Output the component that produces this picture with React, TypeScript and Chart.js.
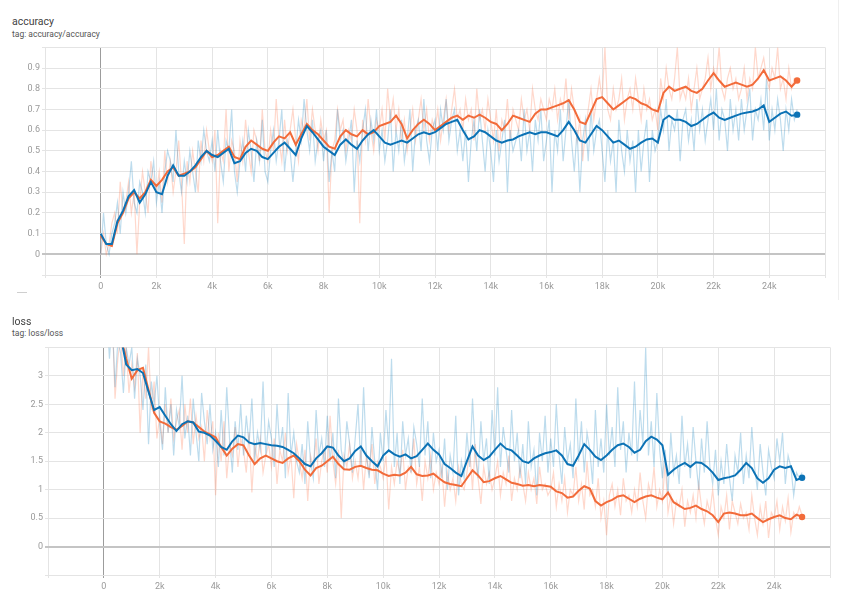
import React, { useEffect, useRef } from "react";
import { Chart, registerables } from "chart.js";
Chart.register(...registerables);

// smoothed series: one value every 200 steps (0 .. 25000, 126 values)
// raw series: one value every 100 steps (0 .. 25000, 251 values)
const SMOOTH_STEP = 200;
const RAW_STEP = 100;

// ---------------- accuracy ----------------
const accOrangeSmoothed = [
  0.09, 0.05, 0.04, 0.15, 0.20, 0.27, 0.30, 0.27, 0.30, 0.36,
  0.33, 0.36, 0.40, 0.42, 0.38, 0.39, 0.40, 0.42, 0.46, 0.50,
  0.47, 0.48, 0.50, 0.52, 0.47, 0.46, 0.52, 0.55, 0.53, 0.51,
  0.50, 0.54, 0.57, 0.56, 0.59, 0.53, 0.58, 0.63, 0.60, 0.58,
  0.55, 0.52, 0.51, 0.57, 0.60, 0.58, 0.57, 0.60, 0.58, 0.59,
  0.62, 0.63, 0.64, 0.67, 0.63, 0.56, 0.60, 0.63, 0.65, 0.63,
  0.60, 0.62, 0.64, 0.66, 0.67, 0.65, 0.67, 0.66, 0.675, 0.66,
  0.64, 0.63, 0.60, 0.63, 0.67, 0.66, 0.65, 0.64, 0.68, 0.70,
  0.70, 0.71, 0.72, 0.73, 0.745, 0.70, 0.64, 0.63, 0.69, 0.75,
  0.76, 0.73, 0.70, 0.72, 0.74, 0.76, 0.75, 0.73, 0.72, 0.70,
  0.69, 0.78, 0.81, 0.79, 0.80, 0.81, 0.79, 0.78, 0.80, 0.84,
  0.875, 0.84, 0.81, 0.82, 0.83, 0.82, 0.81, 0.82, 0.85, 0.89,
  0.84, 0.85, 0.86, 0.84, 0.81, 0.84,
];
const accBlueSmoothed = [
  0.10, 0.05, 0.05, 0.16, 0.21, 0.28, 0.31, 0.25, 0.29, 0.35,
  0.30, 0.29, 0.38, 0.43, 0.38, 0.38, 0.40, 0.43, 0.47, 0.50,
  0.48, 0.47, 0.49, 0.51, 0.44, 0.45, 0.49, 0.51, 0.50, 0.47,
  0.46, 0.49, 0.52, 0.54, 0.51, 0.48, 0.56, 0.62, 0.59, 0.555,
  0.52, 0.50, 0.48, 0.53, 0.555, 0.53, 0.51, 0.55, 0.58, 0.60,
  0.57, 0.54, 0.53, 0.54, 0.55, 0.54, 0.56, 0.58, 0.59, 0.58,
  0.59, 0.61, 0.63, 0.64, 0.65, 0.60, 0.555, 0.57, 0.60, 0.59,
  0.57, 0.55, 0.54, 0.55, 0.555, 0.57, 0.58, 0.59, 0.58, 0.59,
  0.59, 0.58, 0.57, 0.60, 0.64, 0.60, 0.55, 0.54, 0.58, 0.62,
  0.60, 0.57, 0.54, 0.55, 0.53, 0.51, 0.52, 0.54, 0.555, 0.56,
  0.54, 0.65, 0.67, 0.65, 0.65, 0.64, 0.62, 0.63, 0.65, 0.67,
  0.685, 0.66, 0.65, 0.66, 0.67, 0.68, 0.685, 0.69, 0.70, 0.72,
  0.64, 0.66, 0.68, 0.69, 0.67, 0.675,
];
const accOrangeRaw = [
  0.0, 0.1, 0.0, 0.05, 0.15, 0.2, 0.1, 0.35, 0.2, 0.25,
  0.35, 0.2, 0.3, 0.0, 0.25, 0.4, 0.3, 0.2, 0.45, 0.35,
  0.3, 0.4, 0.25, 0.5, 0.35, 0.45, 0.3, 0.4, 0.55, 0.35,
  0.05, 0.45, 0.35, 0.5, 0.4, 0.3, 0.55, 0.45, 0.6, 0.5,
  0.45, 0.6, 0.15, 0.5, 0.45, 0.7, 0.4, 0.55, 0.5, 0.35,
  0.55, 0.45, 0.65, 0.5, 0.4, 0.6, 0.55, 0.45, 0.7, 0.5,
  0.45, 0.6, 0.5, 0.75, 0.55, 0.45, 0.65, 0.5, 0.6, 0.7,
  0.55, 0.45, 0.65, 0.6, 0.75, 0.55, 0.7, 0.6, 0.5, 0.65,
  0.55, 0.6, 0.2, 0.5, 0.55, 0.7, 0.6, 0.65, 0.5, 0.6,
  0.55, 0.7, 0.6, 0.15, 0.65, 0.55, 0.75, 0.6, 0.5, 0.65,
  0.6, 0.7, 0.55, 0.8, 0.65, 0.75, 0.6, 0.7, 0.55, 0.65,
  0.5, 0.6, 0.7, 0.55, 0.65, 0.75, 0.6, 0.7, 0.55, 0.65,
  0.6, 0.7, 0.55, 0.65, 0.75, 0.6, 0.7, 0.8, 0.65, 0.7,
  0.6, 0.75, 0.65, 0.7, 0.55, 0.8, 0.65, 0.7, 0.6, 0.75,
  0.65, 0.55, 0.7, 0.5, 0.65, 0.6, 0.75, 0.55, 0.7, 0.65,
  0.6, 0.75, 0.65, 0.7, 0.6, 0.8, 0.7, 0.65, 0.75, 0.7,
  0.65, 0.75, 0.7, 0.8, 0.65, 0.75, 0.7, 0.85, 0.65, 0.8,
  0.7, 0.55, 0.65, 0.45, 0.6, 0.7, 0.8, 0.65, 0.75, 0.85,
  0.75, 1.0, 0.7, 0.65, 0.8, 0.7, 0.75, 0.85, 0.65, 0.75,
  0.8, 0.7, 0.85, 0.75, 0.65, 0.8, 0.7, 0.75, 0.65, 0.7,
  0.6, 0.85, 0.75, 0.9, 0.8, 0.75, 0.85, 1.0, 0.75, 0.8,
  0.75, 0.85, 0.7, 0.8, 0.9, 0.75, 0.8, 0.85, 0.95, 0.8,
  0.9, 0.85, 1.0, 0.8, 0.75, 0.85, 0.9, 0.8, 0.85, 0.75,
  0.8, 0.9, 0.75, 0.85, 0.8, 1.0, 0.85, 0.9, 0.95, 0.85,
  0.8, 0.9, 0.85, 1.0, 0.8, 0.85, 0.75, 0.9, 0.8, 0.85,
  0.85,
];
const accBlueRaw = [
  0.0, 0.2, 0.05, 0.0, 0.1, 0.15, 0.25, 0.1, 0.3, 0.2,
  0.3, 0.45, 0.25, 0.2, 0.35, 0.3, 0.2, 0.4, 0.35, 0.45,
  0.25, 0.35, 0.2, 0.4, 0.5, 0.45, 0.35, 0.6, 0.4, 0.3,
  0.45, 0.35, 0.5, 0.4, 0.3, 0.55, 0.45, 0.6, 0.5, 0.45,
  0.55, 0.4, 0.6, 0.45, 0.35, 0.55, 0.5, 0.7, 0.4, 0.3,
  0.45, 0.55, 0.4, 0.6, 0.5, 0.35, 0.55, 0.45, 0.65, 0.4,
  0.35, 0.5, 0.6, 0.45, 0.55, 0.7, 0.4, 0.55, 0.5, 0.35,
  0.5, 0.65, 0.55, 0.75, 0.6, 0.5, 0.65, 0.45, 0.55, 0.6,
  0.45, 0.6, 0.35, 0.5, 0.4, 0.7, 0.55, 0.6, 0.45, 0.55,
  0.65, 0.3, 0.55, 0.45, 0.6, 0.7, 0.5, 0.65, 0.55, 0.7,
  0.5, 0.6, 0.45, 0.55, 0.7, 0.4, 0.6, 0.5, 0.65, 0.45,
  0.55, 0.7, 0.4, 0.6, 0.65, 0.5, 0.75, 0.55, 0.45, 0.6,
  0.65, 0.5, 0.7, 0.6, 0.75, 0.55, 0.65, 0.7, 0.5, 0.6,
  0.45, 0.6, 0.35, 0.55, 0.65, 0.5, 0.7, 0.55, 0.4, 0.6,
  0.5, 0.35, 0.6, 0.45, 0.55, 0.65, 0.3, 0.6, 0.5, 0.55,
  0.6, 0.45, 0.7, 0.5, 0.6, 0.4, 0.65, 0.55, 0.7, 0.45,
  0.55, 0.65, 0.3, 0.6, 0.5, 0.7, 0.45, 0.6, 0.75, 0.55,
  0.4, 0.6, 0.3, 0.55, 0.65, 0.45, 0.7, 0.5, 0.6, 0.65,
  0.5, 0.35, 0.6, 0.45, 0.55, 0.3, 0.65, 0.5, 0.4, 0.6,
  0.45, 0.55, 0.3, 0.6, 0.4, 0.55, 0.65, 0.35, 0.6, 0.5,
  0.55, 0.7, 0.6, 0.75, 0.5, 0.65, 0.6, 0.7, 0.45, 0.65,
  0.7, 0.55, 0.65, 0.5, 0.75, 0.6, 0.7, 0.55, 0.65, 0.75,
  0.6, 0.8, 0.55, 0.7, 0.65, 0.5, 0.75, 0.6, 0.7, 0.55,
  0.75, 0.6, 0.7, 0.8, 0.55, 0.7, 0.65, 0.75, 0.6, 0.85,
  0.55, 0.7, 0.6, 0.75, 0.65, 0.5, 0.7, 0.6, 0.75, 0.65,
  0.7,
];

// ---------------- loss ----------------
const lossOrangeSmoothed = [
  4.2, 4.0, 3.9, 3.7, 3.3, 2.95, 3.1, 3.14, 2.75, 2.35,
  2.2, 2.16, 2.1, 2.05, 2.12, 2.2, 2.18, 2.1, 2.02, 1.97,
  1.92, 1.75, 1.6, 1.72, 1.8, 1.78, 1.6, 1.45, 1.55, 1.6,
  1.55, 1.5, 1.47, 1.55, 1.6, 1.5, 1.35, 1.25, 1.38, 1.42,
  1.5, 1.58, 1.45, 1.36, 1.35, 1.4, 1.42, 1.38, 1.35, 1.34,
  1.28, 1.24, 1.26, 1.25, 1.3, 1.4, 1.27, 1.24, 1.25, 1.28,
  1.2, 1.13, 1.1, 1.08, 1.06, 1.2, 1.34, 1.25, 1.13, 1.15,
  1.2, 1.24, 1.18, 1.12, 1.1, 1.07, 1.08, 1.06, 1.08, 1.07,
  1.05, 0.97, 0.94, 0.86, 0.88, 0.98, 1.06, 1.02, 0.8, 0.72,
  0.78, 0.82, 0.88, 0.9, 0.84, 0.78, 0.84, 0.88, 0.9, 0.86,
  0.83, 0.95, 0.78, 0.72, 0.66, 0.68, 0.72, 0.66, 0.62, 0.55,
  0.43, 0.58, 0.6, 0.58, 0.55, 0.55, 0.58, 0.5, 0.43, 0.48,
  0.52, 0.55, 0.5, 0.48, 0.56, 0.52,
];
const lossBlueSmoothed = [
  4.3, 4.1, 3.9, 3.7, 3.2, 3.1, 3.12, 3.05, 2.72, 2.4,
  2.45, 2.3, 2.15, 2.03, 2.15, 2.2, 2.18, 2.02, 2.0, 1.95,
  1.86, 1.75, 1.7, 1.85, 1.95, 1.92, 1.83, 1.8, 1.82, 1.8,
  1.78, 1.77, 1.75, 1.7, 1.64, 1.55, 1.45, 1.41, 1.55, 1.64,
  1.76, 1.74, 1.6, 1.5, 1.55, 1.68, 1.76, 1.6, 1.5, 1.41,
  1.6, 1.69, 1.62, 1.58, 1.62, 1.55, 1.59, 1.7, 1.81, 1.7,
  1.62, 1.45, 1.38, 1.3, 1.24, 1.5, 1.76, 1.6, 1.52, 1.58,
  1.7, 1.81, 1.72, 1.69, 1.6, 1.5, 1.47, 1.55, 1.6, 1.64,
  1.66, 1.69, 1.6, 1.45, 1.42, 1.6, 1.8, 1.7, 1.58, 1.52,
  1.6, 1.7, 1.78, 1.81, 1.75, 1.65, 1.7, 1.85, 1.93, 1.88,
  1.78, 1.26, 1.35, 1.42, 1.47, 1.4, 1.48, 1.47, 1.4, 1.3,
  1.17, 1.2, 1.22, 1.25, 1.35, 1.47, 1.38, 1.2, 1.12, 1.2,
  1.35, 1.41, 1.38, 1.41, 1.17, 1.21,
];
const lossOrangeRaw = [
  4.4, 3.9, 3.6, 4.1, 2.6, 3.3, 3.7, 3.0, 3.5, 2.7,
  3.2, 2.8, 3.4, 2.0, 3.1, 2.6, 3.5, 2.4, 2.9, 1.9,
  2.3, 1.8, 2.5, 2.0, 2.6, 1.9, 2.2, 2.4, 1.7, 2.5,
  2.0, 2.6, 1.8, 2.3, 1.9, 2.1, 1.5, 2.4, 1.9, 2.2,
  0.9, 2.0, 1.5, 2.2, 1.2, 1.8, 1.6, 2.1, 1.4, 1.9,
  1.7, 1.3, 2.0, 0.95, 1.8, 1.5, 1.9, 1.3, 1.6, 1.8,
  1.4, 1.9, 1.1, 1.7, 1.5, 2.0, 1.3, 1.6, 0.85, 1.8,
  1.5, 1.2, 1.7, 0.8, 1.6, 1.4, 1.9, 1.1, 1.5, 1.7,
  1.3, 2.3, 1.5, 1.1, 1.7, 0.5, 1.6, 1.4, 1.8, 1.2,
  1.5, 1.2, 1.7, 1.0, 1.6, 1.3, 1.8, 1.1, 1.5, 1.4,
  1.2, 1.6, 0.65, 1.4, 1.1, 1.5, 1.3, 1.7, 1.0, 1.4,
  1.3, 1.9, 1.1, 1.4, 0.8, 1.5, 1.2, 1.6, 1.0, 1.3,
  1.1, 1.4, 0.7, 1.3, 1.0, 1.2, 0.8, 1.4, 1.1, 1.0,
  1.3, 1.7, 1.0, 1.8, 1.2, 0.75, 1.4, 1.1, 1.3, 1.0,
  1.2, 1.5, 0.9, 1.3, 1.1, 1.6, 0.8, 1.2, 1.0, 1.4,
  1.1, 0.8, 1.3, 1.0, 1.2, 0.75, 1.4, 1.0, 1.1, 0.9,
  1.0, 1.3, 0.7, 1.1, 0.8, 1.2, 0.6, 1.0, 0.9, 1.4,
  0.8, 1.1, 0.65, 1.5, 0.9, 1.0, 0.7, 1.2, 0.5, 0.8,
  0.2, 0.9, 1.1, 0.7, 1.0, 0.55, 1.2, 0.8, 0.9, 0.6,
  1.0, 0.7, 1.3, 0.8, 0.5, 1.1, 0.9, 1.4, 0.7, 1.0,
  0.8, 1.5, 0.6, 0.9, 0.4, 0.8, 0.7, 1.0, 0.35, 0.8,
  0.6, 0.9, 0.5, 1.1, 0.7, 0.4, 0.8, 0.6, 1.0, 0.5,
  0.2, 0.7, 0.5, 0.9, 0.3, 0.8, 0.6, 0.4, 0.75, 0.5,
  0.6, 0.3, 0.9, 0.5, 0.2, 0.7, 0.4, 0.8, 0.15, 0.6,
  0.5, 0.8, 0.3, 0.7, 0.45, 0.85, 0.25, 0.6, 0.5, 0.7,
  0.55,
];
const lossBlueRaw = [
  4.6, 4.2, 3.3, 4.0, 2.8, 3.6, 3.4, 2.7, 3.5, 3.2,
  3.5, 2.6, 3.3, 3.0, 2.4, 3.2, 1.8, 2.9, 2.5, 3.0,
  2.2, 1.7, 2.8, 2.0, 2.5, 1.6, 2.4, 2.1, 3.0, 1.9,
  2.3, 1.6, 2.6, 2.0, 1.5, 2.7, 2.2, 1.8, 2.5, 1.7,
  2.0, 1.4, 2.4, 1.6, 2.8, 1.9, 1.3, 2.2, 1.7, 2.5,
  1.6, 2.3, 1.8, 2.6, 1.5, 2.0, 1.7, 2.9, 1.6, 2.2,
  1.9, 1.4, 2.5, 1.7, 2.1, 1.2, 2.7, 1.6, 2.0, 1.5,
  1.3, 1.8, 1.1, 2.2, 1.5, 1.2, 2.4, 1.6, 1.9, 1.4,
  2.3, 1.5, 2.0, 1.2, 2.6, 1.7, 1.4, 2.2, 1.8, 1.3,
  1.9, 2.5, 1.4, 2.8, 1.6, 1.2, 2.1, 1.5, 1.0, 2.0,
  1.5, 2.4, 1.7, 3.3, 1.4, 2.0, 1.1, 2.2, 1.6, 1.9,
  1.3, 2.1, 1.8, 1.4, 2.6, 1.6, 2.2, 1.2, 2.0, 1.5,
  1.7, 1.2, 1.9, 1.0, 1.6, 1.3, 2.3, 0.9, 1.5, 1.2,
  2.0, 1.4, 2.6, 1.6, 1.2, 2.2, 1.5, 1.9, 1.1, 2.4,
  1.6, 2.8, 1.4, 2.1, 1.7, 1.3, 2.4, 1.5, 2.0, 1.2,
  1.8, 1.1, 2.2, 1.4, 1.7, 0.9, 2.0, 1.5, 2.3, 1.3,
  1.9, 1.4, 2.5, 1.6, 1.1, 2.1, 1.5, 1.8, 1.2, 2.6,
  1.5, 2.2, 1.3, 2.0, 1.7, 1.1, 2.4, 1.4, 1.9, 1.3,
  2.5, 1.6, 2.1, 1.4, 2.8, 1.7, 2.2, 1.3, 2.0, 1.6,
  2.9, 1.5, 2.4, 1.8, 3.5, 1.6, 2.2, 1.4, 2.7, 1.7,
  1.2, 1.7, 0.9, 2.0, 1.3, 1.6, 1.1, 2.3, 1.4, 1.8,
  1.2, 2.1, 1.5, 1.0, 1.9, 1.3, 2.2, 1.4, 1.1, 1.7,
  0.9, 1.5, 1.1, 1.8, 1.2, 0.8, 1.6, 1.3, 2.0, 1.1,
  1.6, 1.2, 2.1, 1.4, 1.0, 1.8, 1.3, 0.9, 1.7, 1.4,
  1.2, 1.9, 1.5, 2.0, 1.1, 1.6, 1.4, 0.9, 1.3, 1.2,
  1.3,
];

const ORANGE = "#f26b3a";
const BLUE = "#0b72b5";
const ORANGE_RAW = "rgba(255,112,67,0.27)";
const BLUE_RAW = "rgba(0,119,187,0.26)";

const toPoints = (arr: number[], step: number) => arr.map((y, i) => ({ x: i * step, y }));

type PanelProps = {
  top: number;
  width: number;
  height: number;
  yAxisWidth: number;
  xAxisHeight: number;
  padTop: number;
  padRight: number;
  yMin: number;
  yMax: number;
  yStep: number;
  series: { orangeRaw: number[]; blueRaw: number[]; orangeSm: number[]; blueSm: number[] };
};

function Panel(p: PanelProps) {
  const ref = useRef<HTMLCanvasElement | null>(null);
  useEffect(() => {
    if (!ref.current) return;
    const lastDot = (n: number) => (ctx: any) => (ctx.dataIndex === n - 1 ? 3.2 : 0);
    const chart = new Chart(ref.current, {
      type: "line",
      data: {
        datasets: [
          {
            data: toPoints(p.series.blueSm, SMOOTH_STEP),
            borderColor: BLUE,
            backgroundColor: BLUE,
            borderWidth: 2,
            pointRadius: lastDot(p.series.blueSm.length),
            pointBorderWidth: 0,
            order: 0,
          },
          {
            data: toPoints(p.series.orangeSm, SMOOTH_STEP),
            borderColor: ORANGE,
            backgroundColor: ORANGE,
            borderWidth: 2,
            pointRadius: lastDot(p.series.orangeSm.length),
            pointBorderWidth: 0,
            order: 1,
          },
          {
            data: toPoints(p.series.blueRaw, RAW_STEP),
            borderColor: BLUE_RAW,
            borderWidth: 1.2,
            pointRadius: 0,
            order: 2,
          },
          {
            data: toPoints(p.series.orangeRaw, RAW_STEP),
            borderColor: ORANGE_RAW,
            borderWidth: 1.2,
            pointRadius: 0,
            order: 3,
          },
        ],
      },
      options: {
        responsive: false,
        animation: false,
        devicePixelRatio: 1,
        layout: { padding: { top: p.padTop, right: p.padRight, left: 0, bottom: 0 } },
        plugins: { legend: { display: false }, tooltip: { enabled: false } },
        elements: { line: { tension: 0 } },
        scales: {
          x: {
            type: "linear",
            min: -2000,
            max: 26000,
            afterFit: (s: any) => {
              s.height = p.xAxisHeight;
            },
            ticks: {
              stepSize: 2000,
              autoSkip: false,
              maxRotation: 0,
              padding: 3,
              color: "#9a9a9a",
              font: { family: "Roboto", size: 9 },
              callback: (v: any) => {
                const n = Number(v);
                if (n < 0 || n > 25000) return "";
                return n === 0 ? "0" : n / 1000 + "k";
              },
            },
            grid: {
              color: (c: any) => (c.tick && c.tick.value === 0 ? "#9c9c9c" : "#e4e4e4"),
              lineWidth: 1,
              tickLength: 3,
            },
            border: { display: false },
          },
          y: {
            type: "linear",
            min: p.yMin,
            max: p.yMax,
            afterFit: (s: any) => {
              s.width = p.yAxisWidth;
            },
            ticks: {
              stepSize: p.yStep,
              autoSkip: false,
              padding: 2,
              color: "#9a9a9a",
              font: { family: "Roboto", size: 9 },
              callback: (v: any) => {
                const n = Math.round(Number(v) * 100) / 100;
                if (n < 0 || n > p.yMax - p.yStep / 2) return "";
                return String(n);
              },
            },
            grid: {
              color: (c: any) => (c.tick && Math.abs(c.tick.value) < 1e-9 ? "#c4c4c4" : "#e4e4e4"),
              lineWidth: (c: any) => (c.tick && Math.abs(c.tick.value) < 1e-9 ? 2 : 1),
              tickLength: 3,
            },
            border: { display: false },
          },
        },
      },
    } as any);
    return () => chart.destroy();
  }, []);
  return (
    <canvas
      ref={ref}
      width={p.width}
      height={p.height}
      style={{ position: "absolute", left: 0, top: p.top, width: p.width, height: p.height }}
    />
  );
}

const titleStyle: React.CSSProperties = {
  position: "absolute",
  left: 12,
  fontFamily: "Roboto, 'Noto Sans', sans-serif",
  fontSize: 10.5,
  color: "#424242",
  lineHeight: "12px",
};
const tagStyle: React.CSSProperties = {
  position: "absolute",
  left: 12,
  fontFamily: "Roboto, 'Noto Sans', sans-serif",
  fontSize: 8.5,
  color: "#555",
  lineHeight: "10px",
};

export default function App() {
  return (
    <div
      style={{
        position: "fixed",
        left: 0,
        top: 0,
        width: 865,
        height: 606,
        background: "#fff",
        overflow: "hidden",
      }}
    >
      <div style={{ ...titleStyle, top: 16 }}>accuracy</div>
      <div style={{ ...tagStyle, top: 29 }}>tag: accuracy/accuracy</div>
      <Panel
        top={40}
        width={840}
        height={260}
        yAxisWidth={45}
        xAxisHeight={25}
        padTop={4}
        padRight={15}
        yMin={-0.1}
        yMax={1.0}
        yStep={0.1}
        series={{ orangeRaw: accOrangeRaw, blueRaw: accBlueRaw, orangeSm: accOrangeSmoothed, blueSm: accBlueSmoothed }}
      />
      <div style={{ position: "absolute", left: 17, top: 292, width: 10, height: 1, background: "#cfcfcf" }} />
      <div style={{ position: "absolute", left: 838, top: 0, width: 1, height: 300, background: "#efefef" }} />
      <div style={{ ...titleStyle, top: 316 }}>loss</div>
      <div style={{ ...tagStyle, top: 328 }}>tag: loss/loss</div>
      <Panel
        top={340}
        width={845}
        height={260}
        yAxisWidth={48}
        xAxisHeight={25}
        padTop={3}
        padRight={15}
        yMin={-0.5}
        yMax={3.5}
        yStep={0.5}
        series={{ orangeRaw: lossOrangeRaw, blueRaw: lossBlueRaw, orangeSm: lossOrangeSmoothed, blueSm: lossBlueSmoothed }}
      />
    </div>
  );
}
